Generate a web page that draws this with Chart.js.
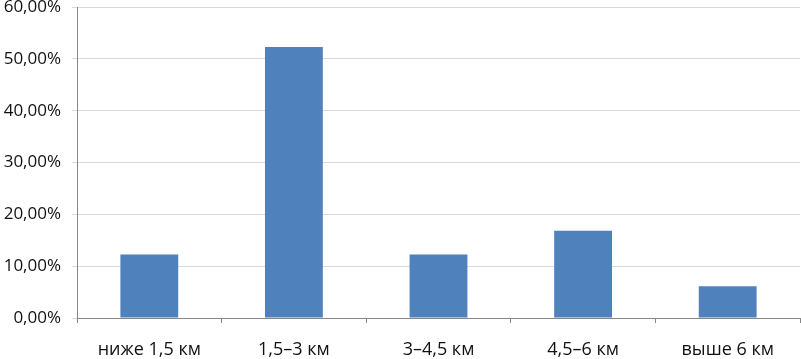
<!DOCTYPE html>
<html><head><meta charset="utf-8">
<script src="https://cdn.jsdelivr.net/npm/chart.js@4/dist/chart.umd.min.js"></script>
<style>html,body{margin:0;padding:0;background:#fff}#wrap{width:801px;height:359px}</style>
</head><body><div id="wrap"><canvas id="c" width="801" height="359"></canvas></div>
<script>
const categories = ["ниже 1,5 км", "1,5–3 км", "3–4,5 км", "4,5–6 км", "выше 6 км"];
const values = [12.24, 52.27, 12.24, 16.84, 6.12];
const yTicks = [0, 10, 20, 30, 40, 50, 60];

new Chart(document.getElementById('c'), {
  type: 'bar',
  data: { labels: categories, datasets: [{ data: values, backgroundColor: '#4f81bd', categoryPercentage: 0.8, barPercentage: 0.5 }] },
  options: {
    responsive: false, animation: false,
    layout: { padding: { left: 0, right: 1, top: 7, bottom: 0 } },
    plugins: { legend: { display: false }, tooltip: { enabled: false } },
    scales: {
      x: {
        grid: { offset: true, drawOnChartArea: false, drawTicks: true, tickLength: 5, tickColor: '#868686' },
        border: { color: '#868686' },
        ticks: { color: '#111', font: { family: 'Open Sans', size: 18 }, padding: 16, maxRotation: 0 },
        afterFit: s => { s.height = 41; s.paddingLeft = 0; s.paddingRight = 0; }
      },
      y: {
        min: 0, max: 60,
        afterBuildTicks: s => { s.ticks = yTicks.map(v => ({ value: v })); },
        grid: { color: '#d9d9d9', tickLength: 5, tickColor: '#d9d9d9' },
        border: { color: '#868686' },
        ticks: { color: '#111', font: { family: 'Open Sans', size: 17 }, padding: 11,
          callback: v => v.toFixed(2).replace('.', ',') + '%' },
        afterFit: s => { s.width = 77; s.paddingTop = 0; s.paddingBottom = 0; }
      }
    }
  }
});
</script></body></html>
